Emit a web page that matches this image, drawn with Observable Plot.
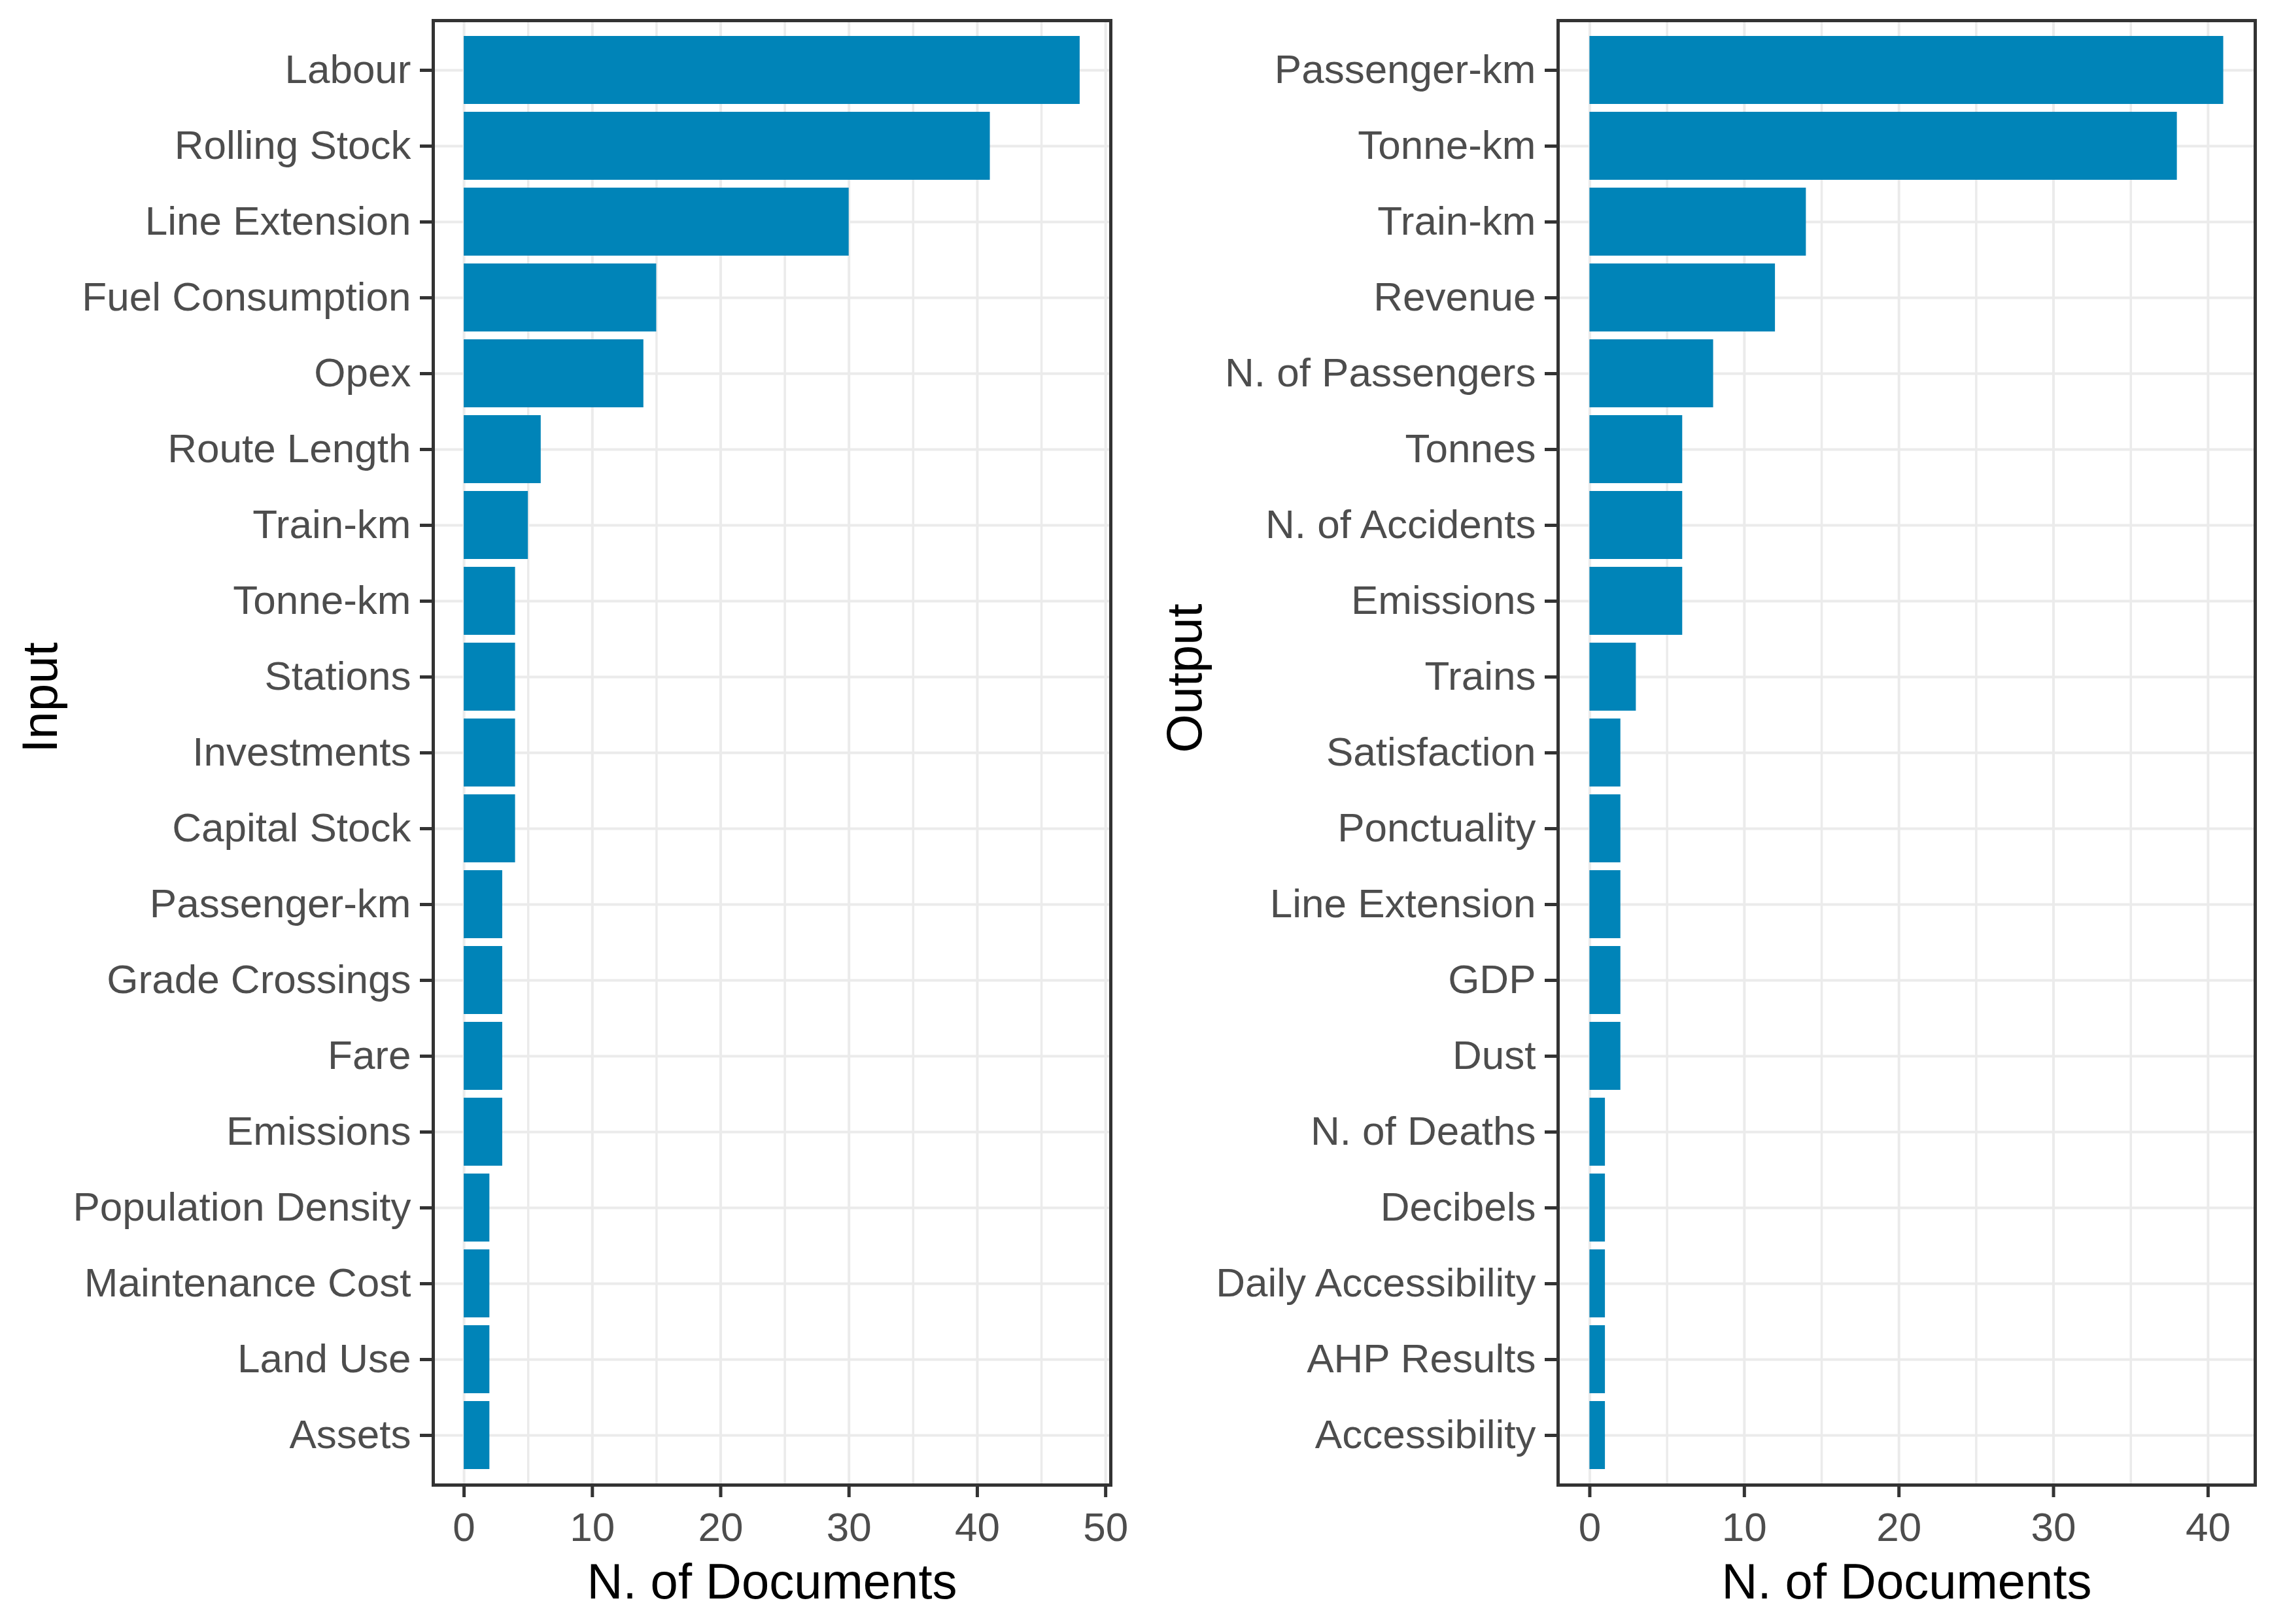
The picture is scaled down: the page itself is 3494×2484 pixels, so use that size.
<!DOCTYPE html>
<html>
<head>
<meta charset="utf-8">
<script src="https://cdn.jsdelivr.net/npm/d3@7"></script>
<script src="https://cdn.jsdelivr.net/npm/@observablehq/plot@0.6"></script>
<style>
  html, body { margin: 0; padding: 0; background: white; }
  #wrap { position: relative; width: 3494px; height: 2484px; }
  #left, #right { position: absolute; top: 0; }
  #left { left: 0; }
  #right { left: 1740px; }
</style>
</head>
<body>
<div id="wrap"><div id="left"></div><div id="right"></div></div>
<script>
const inputNames = ["Labour","Rolling Stock","Line Extension","Fuel Consumption","Opex","Route Length","Train-km","Tonne-km","Stations","Investments","Capital Stock","Passenger-km","Grade Crossings","Fare","Emissions","Population Density","Maintenance Cost","Land Use","Assets"];
const inputCounts = [48,41,30,15,14,6,5,4,4,4,4,3,3,3,3,2,2,2,2];
const outputNames = ["Passenger-km","Tonne-km","Train-km","Revenue","N. of Passengers","Tonnes","N. of Accidents","Emissions","Trains","Satisfaction","Ponctuality","Line Extension","GDP","Dust","N. of Deaths","Decibels","Daily Accessibility","AHP Results","Accessibility"];
const outputCounts = [41,38,14,12,8,6,6,6,3,2,2,2,2,2,1,1,1,1,1];
const inputTicks = [0,10,20,30,40,50];
const inputMinor = [5,15,25,35,45];
const outputTicks = [0,10,20,30,40];
const outputMinor = [5,15,25,35];
const xTitle = "N. of Documents";

const FONT = "'Liberation Sans', Arial, sans-serif";
const BAR = "#0084b8";
const GRID = "#ebebeb";
const DARK = "#333333";
const TXT = "#4d4d4d";

function panel({names, counts, ticks, minor, yTitle, width, marginLeft, marginRight, yTitleDx}) {
  const data = names.map((n, i) => ({name: n, value: counts[i]}));
  const max = d3.max(counts);
  const ext = max * 0.05;
  return Plot.plot({
    width, height: 2484,
    marginLeft, marginRight, marginTop: 31, marginBottom: 213,
    style: {fontFamily: FONT, background: "white", overflow: "visible"},
    x: {domain: [-ext, max + ext]},
    y: {domain: names, paddingInner: 0.1, paddingOuter: 0.15},
    marks: [
      Plot.gridX(minor, {stroke: GRID, strokeOpacity: 1, strokeWidth: 3.5}),
      Plot.gridX(ticks, {stroke: GRID, strokeOpacity: 1, strokeWidth: 4}),
      Plot.gridY({stroke: GRID, strokeOpacity: 1, strokeWidth: 4}),
      Plot.barX(data, {x: "value", y: "name", fill: BAR}),
      Plot.frame({stroke: DARK, strokeWidth: 5}),
      Plot.axisY({tickSize: 20, tickPadding: 14, stroke: DARK, strokeWidth: 5, fill: TXT, fontSize: 62, label: null}),
      Plot.axisX(ticks, {tickSize: 19, tickPadding: 22, stroke: DARK, strokeWidth: 5, fill: TXT, fontSize: 62, label: null}),
      Plot.text([xTitle], {frameAnchor: "bottom", dy: 149, fontSize: 76, fill: "black", lineAnchor: "middle"}),
      Plot.text([yTitle], {frameAnchor: "left", dx: yTitleDx, rotate: -90, fontSize: 76, fill: "black", lineAnchor: "middle"})
    ]
  });
}

document.getElementById("left").append(panel({
  names: inputNames, counts: inputCounts, ticks: inputTicks, minor: inputMinor,
  yTitle: "Input", width: 1740, marginLeft: 662, marginRight: 42, yTitleDx: -600
}));
document.getElementById("right").append(panel({
  names: outputNames, counts: outputCounts, ticks: outputTicks, minor: outputMinor,
  yTitle: "Output", width: 1754, marginLeft: 642, marginRight: 46, yTitleDx: -570
}));
</script>
</body>
</html>
